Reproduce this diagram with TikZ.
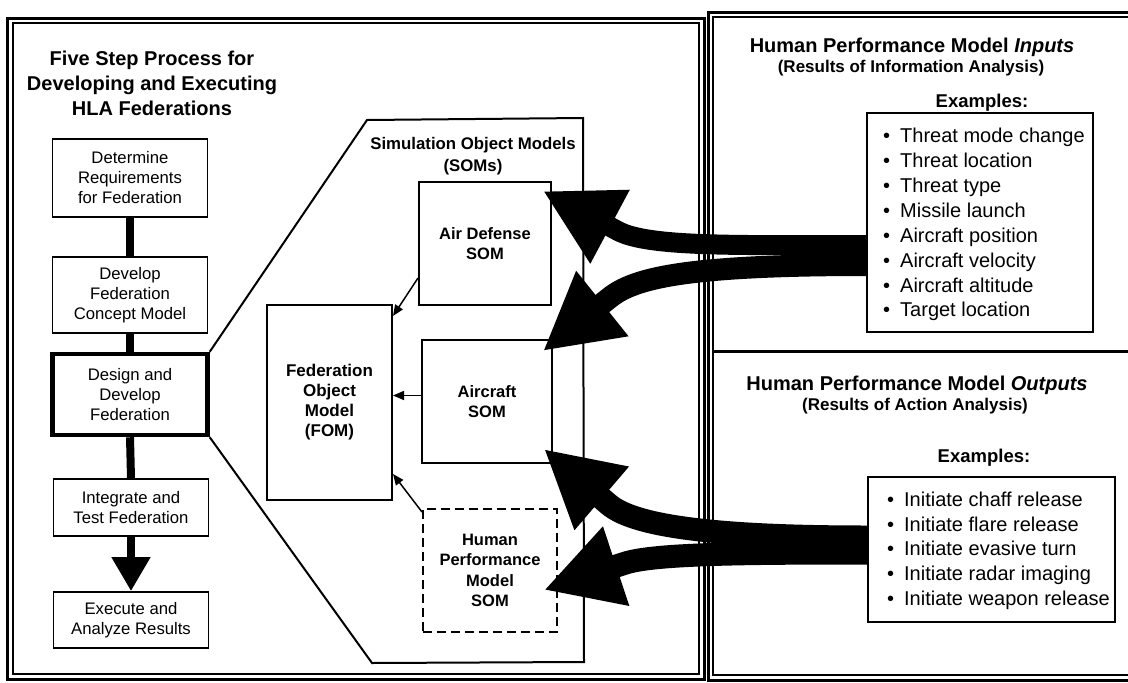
\documentclass[tikz,border=0pt]{standalone}
\usepackage{fontspec}
\setmainfont{Liberation Sans}
\usetikzlibrary{arrows.meta,calc}
\newcommand\itembullet{\makebox[17pt][l]{•}}
\begin{document}
\begin{tikzpicture}[x=1pt,y=-1pt,
  frameout/.style={line width=3pt},
  framein/.style={line width=1.4pt},
  stepbox/.style={draw, line width=1.8pt, minimum width=155pt, inner sep=0pt,
    align=center, font=\fontsize{16.7}{20}\selectfont},
  keystep/.style={stepbox, line width=4.5pt},
  flowbar/.style={line width=8pt},
  sombox/.style={draw, line width=2pt, inner sep=0pt, align=center,
    font=\bfseries\fontsize{16.5}{20.5}\selectfont},
  thinarrow/.style={line width=1.5pt, -{Triangle[length=11pt,width=9pt]}},
  band/.style={-{Triangle[length=76pt,width=78pt]}},
  listbox/.style={draw, line width=2pt, inner sep=0pt},
  listtext/.style={align=left, inner sep=0pt, font=\fontsize{20}{24.86}\selectfont},
  heading/.style={font=\bfseries\fontsize{20}{25}\selectfont, inner sep=0pt},
  subhead/.style={font=\bfseries\fontsize{17}{20}\selectfont, inner sep=0pt, anchor=base},
  examples/.style={font=\bfseries\fontsize{18.5}{22}\selectfont, inner sep=0pt, anchor=base},
]
\useasboundingbox (0,0) rectangle (1128,683);

% panel frames
\draw[frameout] (7,18) rectangle (704,679);
\draw[framein] (13,23) rectangle (699,674);
\draw[frameout] (708,12) rectangle (1140,680);
\draw[framein] (713,17) rectangle (1140,675);
\draw[frameout] (713,351) -- (1140,351);

% five step process
\node[heading, align=center] (title) at (152,83)
  {Five Step Process for\\Developing and Executing\\HLA Federations};
\node[stepbox, minimum height=78pt] (s1) at (130,178) {Determine\\Requirements\\for Federation};
\node[stepbox, minimum height=76pt] (s2) at (130,295) {Develop\\Federation\\Concept Model};
\node[keystep, minimum height=81pt] (s3) at (130,394.5) {Design and\\Develop\\Federation};
\node[stepbox, minimum height=57pt] (s4) at (131,507.5) {Integrate and\\Test Federation};
\node[stepbox, minimum height=56pt] (s5) at (131,620) {Execute and\\Analyze Results};

\draw[flowbar] (s1.south) -- (s2.north);
\draw[flowbar] (s2.south) -- (s3.north);
\draw[flowbar] (s3.south) -- (s4.north);
\draw[flowbar, -{Triangle[length=34pt,width=37pt]}] (s4.south) -- (s5.north);

% expanded view of the design step
\draw[line width=2pt, line join=miter]
  (s3.north east) -- (367,120) -- (583,118) -- (584,662) -- (372,663) -- (s3.south east);
\node[font=\bfseries\fontsize{16.8}{22}\selectfont, align=center, inner sep=0pt]
  (somtitle) at (473,156.6) {Simulation Object Models\\(SOMs)};

\node[sombox, minimum width=132pt, minimum height=123pt] (adsom) at (485,243.5) {Air Defense\\SOM};
\node[sombox, minimum width=130pt, minimum height=123pt] (acsom) at (487,401.5) {Aircraft\\SOM};
\node[sombox, dash pattern=on 9pt off 5pt, minimum width=134pt, minimum height=123pt]
  (hpmsom) at (490,570.5) {Human\\Performance\\Model\\SOM};
\node[sombox, font=\bfseries\fontsize{17}{20}\selectfont, minimum width=125pt, minimum height=195pt]
  (fom) at (329.5,402.5) {Federation\\Object\\Model\\(FOM)};

\draw[thinarrow] ($(adsom.south west)+(0,-28)$) -- ($(fom.north east)+(0,12)$);
\draw[thinarrow] ([yshift=6pt]acsom.west) -- ([yshift=6pt]acsom.west -| fom.east);
\draw[thinarrow] ($(hpmsom.north west)+(0,4)$) -- ($(fom.south east)+(0,-27)$);

% model inputs
\node[heading, anchor=base] (inhead) at (912,52) {Human Performance Model \textit{Inputs}};
\node[subhead] (insub) at (911,72) {(Results of Information Analysis)};
\node[examples] (inex) at (982,107) {Examples:};
\node[listbox, minimum width=226pt, minimum height=219pt] (inbox) at (980,222.5) {};
\node[listtext, anchor=west] (inlist) at (883,224.8)
  {\itembullet Threat mode change\\
   \itembullet Threat location\\
   \itembullet Threat type\\
   \itembullet Missile launch\\
   \itembullet Aircraft position\\
   \itembullet Aircraft velocity\\
   \itembullet Aircraft altitude\\
   \itembullet Target location};

% model outputs
\node[heading, anchor=base] (outhead) at (917,390) {Human Performance Model \textit{Outputs}};
\node[subhead] (outsub) at (915,410) {(Results of Action Analysis)};
\node[examples] (outex) at (984,462) {Examples:};
\node[listbox, minimum width=247pt, minimum height=145pt] (outbox) at (991.5,549.5) {};
\node[listtext, anchor=west] (outlist) at (887,550.8)
  {\itembullet Initiate chaff release\\
   \itembullet Initiate flare release\\
   \itembullet Initiate evasive turn\\
   \itembullet Initiate radar imaging\\
   \itembullet Initiate weapon release};

% broad flows between the lists and the SOMs
\coordinate (t1) at ($(adsom.north east)+(-9,10)$);
\coordinate (b1) at ($(t1)+(75,40)$);
\coordinate (t2) at ($(acsom.north east)+(-10,12)$);
\coordinate (b2) at ($(t2)+(66.4,-53.1)$);
\coordinate (t3) at ($(acsom.south east)+(-9,-15)$);
\coordinate (b3) at ($(t3)+(64.6,55.3)$);
\coordinate (t4) at ($(hpmsom.east)+(-14,19.5)$);
\coordinate (b4) at ($(t4)+(80.7,-26.7)$);

\draw[band, line width=20pt] ($(inbox.west)+(0,22.5)$) .. controls (740,245) and ($(b1)+(31,16.5)$) .. (b1) -- (t1);
\draw[band, line width=22pt] ($(inbox.west)+(0,42.5)$) .. controls (680,265) and ($(b2)+(23.4,-18.7)$) .. (b2) -- (t2);
\draw[band, line width=23pt] ($(outbox.west)+(0,-12.5)$) .. controls (700,537) and ($(b3)+(22.8,19.5)$) .. (b3) -- (t3);
\draw[band, line width=23pt] ($(outbox.west)+(0,3.5)$) .. controls (740,553) and ($(b4)+(28.5,-9.4)$) .. (b4) -- (t4);
\end{tikzpicture}
\end{document}
